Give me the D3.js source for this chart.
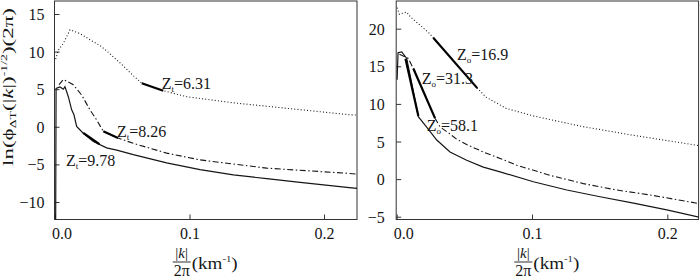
<!DOCTYPE html>
<html><head><meta charset="utf-8">
<script src="https://cdn.jsdelivr.net/npm/d3@7"></script>
<style>
body{margin:0;background:#fff}
svg{display:block}
</style>
</head><body>
<svg id="c" width="700" height="278"></svg>
<script>
// ---------- data ----------
const xTicks = [0, 0.1, 0.2];
const xTickLabels = ["0.0", "0.1", "0.2"];
const leftYTicks = [-10, -5, 0, 5, 10, 15];
const rightYTicks = [-5, 0, 5, 10, 15, 20];

// left panel curves [k/2pi, value]
const leftSolid = [[0.0005,-12.3],[0.0008,5.1],[0.0037,5.3],[0.0062,5.0],[0.0074,5.35],[0.0099,4.0],[0.0124,2.25],[0.0141,1.6],[0.0161,0.05],[0.021,-0.85],[0.0285,-1.95],[0.0384,-2.8],[0.0459,-3.1],[0.0582,-3.7],[0.083,-4.8],[0.1078,-5.7],[0.1326,-6.4],[0.1574,-6.9],[0.1822,-7.4],[0.2188,-8.1],[0.2245,-8.2]];
const leftDashDot = [[0.003,5.6],[0.0062,6.3],[0.0136,5.6],[0.0199,4.2],[0.026,2.25],[0.031,0.9],[0.0359,-0.6],[0.0468,-1.5],[0.0582,-2.2],[0.083,-3.5],[0.1078,-4.4],[0.1574,-5.5],[0.2188,-6.2],[0.2245,-6.3]];
const leftDotted = [[0.0005,9.0],[0.0025,10.2],[0.0062,11.1],[0.0112,12.9],[0.0186,12.4],[0.0285,11.3],[0.0335,10.8],[0.0384,10.1],[0.0459,8.9],[0.0525,7.8],[0.0582,6.8],[0.0645,5.8],[0.0805,4.8],[0.098,4.0],[0.132,3.2],[0.17,2.5],[0.219,1.6],[0.2245,1.55]];
const leftBold = [[[0.0645,5.8],[0.0805,4.8]], [[0.0359,-0.6],[0.0468,-1.5]], [[0.021,-0.8],[0.033,-2.3]]];
const leftLabelValues = ["6.31", "8.26", "9.78"];
const leftLabelAnchors = [[0.0793,5.03],[0.0461,-1.36],[0.0082,-5.28]];

// right panel curves
const rightSolid = [[0.0003,13.2],[0.001,16.8],[0.0037,16.9],[0.0074,16.05],[0.016,8.3],[0.022,6.95],[0.0296,5.2],[0.0394,3.6],[0.0517,2.5],[0.064,1.6],[0.0764,0.97],[0.101,-0.35],[0.1257,-1.45],[0.1503,-2.35],[0.175,-3.2],[0.1996,-4.1],[0.2234,-5.05]];
const rightDashDot = [[0.002,16.6],[0.0086,16.05],[0.0123,14.7],[0.0283,8.1],[0.032,6.95],[0.0394,6.0],[0.0443,5.3],[0.0517,4.6],[0.064,3.6],[0.0764,2.75],[0.0887,1.85],[0.1133,0.5],[0.138,-0.6],[0.1626,-1.45],[0.187,-2.1],[0.2234,-3.25]];
const rightDotted = [[0.0003,22.8],[0.002,21.9],[0.005,22.1],[0.0074,22.2],[0.01,21.6],[0.017,20.5],[0.024,19.4],[0.027,18.8],[0.0595,12.1],[0.066,10.9],[0.081,9.4],[0.101,8.4],[0.137,7.0],[0.174,5.85],[0.2234,4.45]];
const rightBold = [[[0.027,18.8],[0.0595,12.1]], [[0.0123,14.7],[0.0283,8.1]], [[0.0065,16.0],[0.016,8.4]]];
const rightLabelValues = ["16.9", "31.3", "58.1"];
const rightLabelAnchors = [[0.0446,15.84],[0.0185,12.58],[0.0222,6.46]];

// ---------- layout ----------
const FONT = '"Liberation Serif","Times New Roman",Tinos,serif';
const panels = [
  {x0:55, x1:357, xMax:0.2245, top:1, bottom:219.5, yDom:[-12.33,16.73], yTicks:leftYTicks, gap:5,
   solid:leftSolid, dashdot:leftDashDot, dotted:leftDotted, bold:leftBold,
   labels:leftLabelValues, anchors:leftLabelAnchors, sub:"t", fracX:181.7, showYLabel:true},
  {x0:396.7, x1:698.6, xMax:0.2231, top:1, bottom:219.5, yDom:[-5.37,23.68], yTicks:rightYTicks, gap:6.5,
   solid:rightSolid, dashdot:rightDashDot, dotted:rightDotted, bold:rightBold,
   labels:rightLabelValues, anchors:rightLabelAnchors, sub:"o", fracX:523.3, showYLabel:false}
];

const svg = d3.select("#c");
const ink = "#161616";

function txt(sel) { return sel.style("font-family", FONT).style("fill", ink); }

panels.forEach((p, i) => {
  const x = d3.scaleLinear().domain([0, p.xMax]).range([p.x0, p.x1]);
  const y = d3.scaleLinear().domain(p.yDom).range([p.bottom, p.top]);
  const g = svg.append("g");

  const clipId = "clip" + i;
  svg.append("clipPath").attr("id", clipId).append("rect")
    .attr("x", p.x0 - 0.5).attr("y", p.top).attr("width", p.x1 - p.x0 + 0.5).attr("height", p.bottom - p.top);

  // y axis ticks (inward) + labels
  const yAxis = d3.axisLeft(y).tickValues(p.yTicks).tickSize(-5).tickPadding(p.gap + 5).tickFormat(d3.format("d"));
  const ya = g.append("g").attr("transform", `translate(${p.x0 - 0.5},0)`).call(yAxis);
  ya.attr("font-family", null);
  ya.select(".domain").remove();
  ya.selectAll("line").attr("stroke", "#333");
  txt(ya.selectAll("text")).style("font-size", "16px").attr("dy", "0.35em");

  // x axis ticks (inward) + labels
  const xAxis = d3.axisBottom(x).tickValues(xTicks).tickSize(-5).tickPadding(10)
    .tickFormat((d, j) => xTickLabels[j]);
  const xa = g.append("g").attr("transform", `translate(0,${p.bottom})`).call(xAxis);
  xa.attr("font-family", null);
  xa.select(".domain").remove();
  xa.selectAll("line").attr("stroke", "#333");
  txt(xa.selectAll("text")).style("font-size", "16px")
    .attr("dy", "0.62em")
    .attr("dx", (d) => d === 0 ? 6.5 : 0);

  // frame
  g.append("rect").attr("x", p.x0 - 0.5).attr("y", p.top).attr("width", p.x1 - p.x0 + 0.5)
    .attr("height", p.bottom - p.top).attr("fill", "none").attr("stroke", "#333").attr("stroke-width", 1);

  const line = d3.line().x(d => x(d[0])).y(d => y(d[1]));
  const cg = g.append("g").attr("clip-path", `url(#${clipId})`);
  cg.append("path").datum(p.dotted).attr("d", line).attr("fill", "none")
    .attr("stroke", ink).attr("stroke-width", 1.1).attr("stroke-dasharray", "1,2.2");
  cg.append("path").datum(p.dashdot).attr("d", line).attr("fill", "none")
    .attr("stroke", ink).attr("stroke-width", 1.1).attr("stroke-dasharray", "6,2.5,1.5,2.5");
  cg.append("path").datum(p.solid).attr("d", line).attr("fill", "none")
    .attr("stroke", ink).attr("stroke-width", 1.2);
  p.bold.forEach(seg => {
    cg.append("path").datum(seg).attr("d", line).attr("fill", "none")
      .attr("stroke", "#000").attr("stroke-width", 2.2);
  });

  // labels
  p.labels.forEach((v, j) => {
    const a = p.anchors[j];
    const t = txt(g.append("text")).attr("x", x(a[0])).attr("y", y(a[1])).style("font-size", "16px");
    t.append("tspan").text("Z");
    t.append("tspan").style("font-size", "9px").attr("dy", 3).text(p.sub);
    t.append("tspan").attr("dy", -3).text("=" + v);
  });

  // x axis title: |k| / 2π (km^-1)
  const fx = p.fracX;
  const num = txt(g.append("text")).attr("x", fx).attr("y", 258).attr("text-anchor", "middle").style("font-size", "15px");
  num.append("tspan").text("|");
  num.append("tspan").style("font-style", "italic").text("k");
  num.append("tspan").text("|");
  g.append("line").attr("x1", fx - 9).attr("x2", fx + 9).attr("y1", 262).attr("y2", 262)
    .attr("stroke", ink).attr("stroke-width", 0.9);
  txt(g.append("text")).attr("x", fx).attr("y", 276).attr("text-anchor", "middle").style("font-size", "16px").text("2π");
  const unit = txt(g.append("text")).attr("x", fx + 10).attr("y", 268.5).style("font-size", "16px")
    .attr("textLength", 46).attr("lengthAdjust", "spacingAndGlyphs");
  unit.append("tspan").text("(km");
  unit.append("tspan").style("font-size", "9px").attr("dy", -7).text("-1");
  unit.append("tspan").attr("dy", 7).text(")");

  if (p.showYLabel) {
    const yl = txt(svg.append("text")).attr("transform", "translate(13,87) rotate(-90)")
      .attr("text-anchor", "middle").style("font-size", "15px")
      .attr("textLength", 158).attr("lengthAdjust", "spacingAndGlyphs");
    yl.append("tspan").text("ln(ϕ");
    yl.append("tspan").style("font-size", "9px").attr("dy", 3).text("ΔT");
    yl.append("tspan").attr("dy", -3).text("(|");
    yl.append("tspan").style("font-style", "italic").text("k");
    yl.append("tspan").text("|)");
    yl.append("tspan").style("font-size", "9px").attr("dy", -6).text("-1/2");
    yl.append("tspan").attr("dy", 6).text(")(2π)");
  }
});
</script>
</body></html>
